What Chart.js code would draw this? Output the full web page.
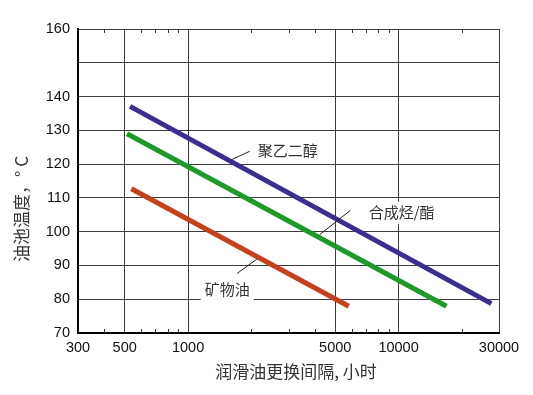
<!DOCTYPE html>
<html>
<head>
<meta charset="utf-8">
<script src="https://cdn.jsdelivr.net/npm/chart.js@4/dist/chart.umd.min.js"></script>
<style>
  body { margin: 0; background: #fff; }
</style>
</head>
<body>
<canvas id="oilChart" width="533" height="395"></canvas>
<script>
// data (hours, deg C)
var polyglycolLine = [{x: 530, y: 137.1}, {x: 27600, y: 78.7}];
var synthLine = [{x: 513, y: 129.0}, {x: 16900, y: 77.9}];
var mineralLine = [{x: 538, y: 112.7}, {x: 5800, y: 77.9}];

var seriesNames = ['聚乙二醇', '合成烃/酯', '矿物油'];
var xMajorTicks = [300, 500, 1000, 5000, 10000, 30000];
var xMinorTicks = [400, 600, 700, 800, 900, 2000, 3000, 4000, 6000, 7000, 8000, 9000, 20000];
var yHiddenTicks = [150];

// callout labels: text anchor + leader line, in data units
var labelAt = [[2142, 124.1], [7215, 105.6], [1200, 82.8]];
var leaderFrom = [[1607, 121.3], [4220, 99.1], [1707, 87.6]];
var leaderTo = [[1963, 123.8], [5904, 106.3], [2125, 91.9]];

var xTitle = '润滑油更换间隔, 小时';
var yTitle = '油池温度，° C';

var cjkFont = '"Noto Sans CJK SC", "Noto Sans", sans-serif';

// minor ticks inside the frame, top and bottom
var minorTickPlugin = {
  id: 'minorTicks',
  afterDatasetsDraw: function(chart) {
    var ctx = chart.ctx, xs = chart.scales.x, area = chart.chartArea;
    ctx.save();
    ctx.strokeStyle = '#333';
    ctx.lineWidth = 1;
    xMinorTicks.forEach(function(v) {
      var px = Math.round(xs.getPixelForValue(v)) + 0.5;
      ctx.beginPath();
      ctx.moveTo(px, area.bottom);
      ctx.lineTo(px, area.bottom - 4);
      ctx.moveTo(px, area.top);
      ctx.lineTo(px, area.top + 4);
      ctx.stroke();
    });
    ctx.restore();
  }
};

// callouts and axis titles
var calloutPlugin = {
  id: 'callouts',
  afterDraw: function(chart) {
    var ctx = chart.ctx, xs = chart.scales.x, ys = chart.scales.y;
    ctx.save();
    ctx.font = '15px ' + cjkFont;
    ctx.textBaseline = 'middle';
    ctx.textAlign = 'left';
    for (var i = 0; i < seriesNames.length; i++) {
      var tx = xs.getPixelForValue(labelAt[i][0]);
      var ty = ys.getPixelForValue(labelAt[i][1]);
      var w = ctx.measureText(seriesNames[i]).width;
      ctx.fillStyle = '#fff';
      ctx.fillRect(tx - 4, ty - 11, w + 8, 22);
      ctx.fillStyle = '#333';
      ctx.fillText(seriesNames[i], tx, ty);

      ctx.strokeStyle = '#222';
      ctx.lineWidth = 1;
      ctx.beginPath();
      ctx.moveTo(xs.getPixelForValue(leaderFrom[i][0]), ys.getPixelForValue(leaderFrom[i][1]));
      ctx.lineTo(xs.getPixelForValue(leaderTo[i][0]), ys.getPixelForValue(leaderTo[i][1]));
      ctx.stroke();
    }

    ctx.font = '17px ' + cjkFont;
    ctx.fillStyle = '#333';
    ctx.textAlign = 'center';
    ctx.fillText(xTitle, 296, 372);

    ctx.translate(22, 209);
    ctx.rotate(-Math.PI / 2);
    ctx.fillText(yTitle, 0, 0);
    ctx.restore();
  }
};

var ctx = document.getElementById('oilChart').getContext('2d');
var oilChart = new Chart(ctx, {
  type: 'line',
  data: {
    datasets: [
      { label: seriesNames[0], data: polyglycolLine, borderColor: '#3a2f8c', borderWidth: 5, pointRadius: 0, fill: false },
      { label: seriesNames[1], data: synthLine, borderColor: '#1f9a2a', borderWidth: 5, pointRadius: 0, fill: false },
      { label: seriesNames[2], data: mineralLine, borderColor: '#c4411e', borderWidth: 5, pointRadius: 0, fill: false }
    ]
  },
  options: {
    responsive: false,
    animation: false,
    devicePixelRatio: 1,
    layout: { padding: { top: 29, right: 34, bottom: 0, left: 0 } },
    plugins: {
      legend: { display: false },
      tooltip: { enabled: false }
    },
    scales: {
      x: {
        type: 'logarithmic',
        min: 300,
        max: 30000,
        afterBuildTicks: function(scale) {
          scale.ticks = xMajorTicks.map(function(v) { return { value: v }; });
        },
        afterFit: function(scale) { scale.height = 62; },
        grid: { color: '#3c3c3c', lineWidth: 1, drawTicks: false },
        border: { color: '#000', width: 2 },
        ticks: {
          color: '#111',
          padding: 6,
          autoSkip: false,
          maxRotation: 0,
          font: { family: '"Liberation Sans", Arial, sans-serif', size: 14.5 },
          callback: function(v) { return String(v); }
        }
      },
      y: {
        min: 70,
        max: 160,
        afterFit: function(scale) { scale.width = 78; },
        grid: { color: '#3c3c3c', lineWidth: 1, drawTicks: false },
        border: { color: '#000', width: 2 },
        ticks: {
          stepSize: 10,
          color: '#111',
          padding: 8,
          font: { family: '"Liberation Sans", Arial, sans-serif', size: 14.5 },
          callback: function(v) { return yHiddenTicks.indexOf(v) >= 0 ? '' : v; }
        }
      }
    }
  },
  plugins: [minorTickPlugin, calloutPlugin]
});
</script>
</body>
</html>
